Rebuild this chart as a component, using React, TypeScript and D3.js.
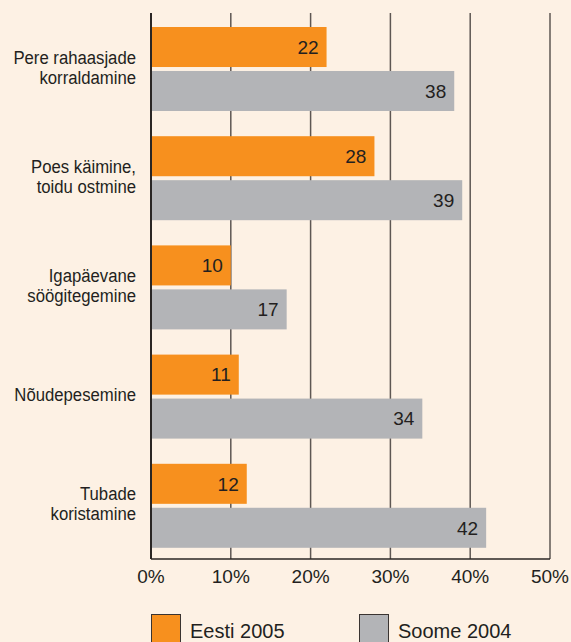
import { useEffect, useRef } from 'react'
import * as d3 from 'd3'

const categories = [
  ['Pere rahaasjade', 'korraldamine'],
  ['Poes käimine,', 'toidu ostmine'],
  ['Igapäevane', 'söögitegemine'],
  ['Nõudepesemine'],
  ['Tubade', 'koristamine'],
]
const seriesNames = ['Eesti 2005', 'Soome 2004']
const eesti2005 = [22, 28, 10, 11, 12]
const soome2004 = [38, 39, 17, 34, 42]
const xTicks = [0, 10, 20, 30, 40, 50]

const COLORS = ['#f7901e', '#b3b4b7']
const BG = '#fdf1e4'
const FONT = 'Helvetica, Arial, "Liberation Sans", sans-serif'

export default function App() {
  const ref = useRef<HTMLDivElement>(null)

  useEffect(() => {
    const el = ref.current
    if (!el) return
    el.innerHTML = ''
    document.body.style.margin = '0'
    const width = 571
    const height = 642
    const margin = { top: 13, left: 151, right: 21, bottom: 83 }
    const innerW = width - margin.left - margin.right
    const innerH = height - margin.top - margin.bottom

    const svg = d3
      .select(el)
      .append('svg')
      .attr('width', width)
      .attr('height', height)
      .style('display', 'block')

    svg.append('rect').attr('width', width).attr('height', height).attr('fill', BG)

    const g = svg.append('g').attr('transform', `translate(${margin.left},${margin.top})`)

    const keys = categories.map((c) => c.join(' '))
    const y = d3.scaleBand().domain(keys).range([0, innerH]).padding(0)
    const ySub = d3.scaleBand().domain(seriesNames).range([14, 98]).paddingInner(0.09)
    const x = d3.scaleLinear().domain([0, 50]).range([0, innerW])

    // grid
    g.selectAll('line.grid')
      .data(xTicks)
      .join('line')
      .attr('class', 'grid')
      .attr('x1', (d) => x(d))
      .attr('x2', (d) => x(d))
      .attr('y1', 0)
      .attr('y2', innerH)
      .attr('stroke', (d) => (d === 0 ? '#2a2624' : '#5e5753'))
      .attr('stroke-width', (d) => (d === 0 ? 2 : 1.5))

    g.append('line')
      .attr('x1', x(0))
      .attr('x2', x(50))
      .attr('y1', innerH)
      .attr('y2', innerH)
      .attr('stroke', '#2a2624')
      .attr('stroke-width', 1.5)

    const rows = keys.map((k, i) => ({ key: k, lines: categories[i], vals: [eesti2005[i], soome2004[i]] }))

    const groups = g
      .selectAll('g.row')
      .data(rows)
      .join('g')
      .attr('class', 'row')
      .attr('transform', (d) => `translate(0,${y(d.key)})`)

    groups
      .selectAll('rect')
      .data((d) => d.vals.map((v, j) => ({ s: seriesNames[j], v, j })))
      .join('rect')
      .attr('x', x(0) + 1)
      .attr('y', (d) => ySub(d.s) || 0)
      .attr('width', (d) => x(d.v) - x(0) - 1)
      .attr('height', ySub.bandwidth())
      .attr('fill', (d) => COLORS[d.j])

    groups
      .selectAll('text.value')
      .data((d) => d.vals.map((v, j) => ({ s: seriesNames[j], v })))
      .join('text')
      .attr('class', 'value')
      .attr('x', (d) => x(d.v) - 8)
      .attr('y', (d) => (ySub(d.s) || 0) + ySub.bandwidth() / 2)
      .attr('dy', '0.36em')
      .attr('text-anchor', 'end')
      .attr('fill', '#231f20')
      .style('font-family', FONT)
      .style('font-size', '19px')
      .text((d) => d.v)

    // category labels (condensed look via horizontal scale)
    groups.each(function (d) {
      const t = d3
        .select(this)
        .append('g')
        .attr('transform', 'translate(-15,0) scale(0.88,1)')
        .append('text')
        .attr('text-anchor', 'end')
        .attr('fill', '#231f20')
        .style('font-family', FONT)
        .style('font-size', '19px')
      const mid = 54
      const lh = 20
      d.lines.forEach((line, i) => {
        t.append('tspan')
          .attr('x', 0)
          .attr('y', mid + (i - (d.lines.length - 1) / 2) * lh)
          .attr('dy', '0.35em')
          .text(line)
      })
    })

    // x tick labels
    g.selectAll('text.tick')
      .data(xTicks)
      .join('text')
      .attr('class', 'tick')
      .attr('x', (d) => x(d))
      .attr('y', innerH + 24)
      .attr('text-anchor', 'middle')
      .attr('fill', '#231f20')
      .style('font-family', FONT)
      .style('font-size', '19px')
      .text((d) => `${d}%`)

    // legend
    const legendX = [0, 208]
    const leg = svg
      .append('g')
      .attr('transform', `translate(${margin.left},614)`)
      .selectAll('g')
      .data(seriesNames)
      .join('g')
      .attr('transform', (_, i) => `translate(${legendX[i]},0)`)
    leg
      .append('rect')
      .attr('x', 0.5)
      .attr('y', 0.5)
      .attr('width', 29)
      .attr('height', 32)
      .attr('fill', (_, i) => COLORS[i])
      .attr('stroke', '#3a3431')
      .attr('stroke-width', 1)
    leg
      .append('text')
      .attr('x', 39)
      .attr('y', 24)
      .attr('fill', '#231f20')
      .style('font-family', FONT)
      .style('font-size', '20px')
      .text((d) => d)

    return () => {
      el.innerHTML = ''
    }
  }, [])

  return <div ref={ref} style={{ width: 571, height: 642 }} />
}
